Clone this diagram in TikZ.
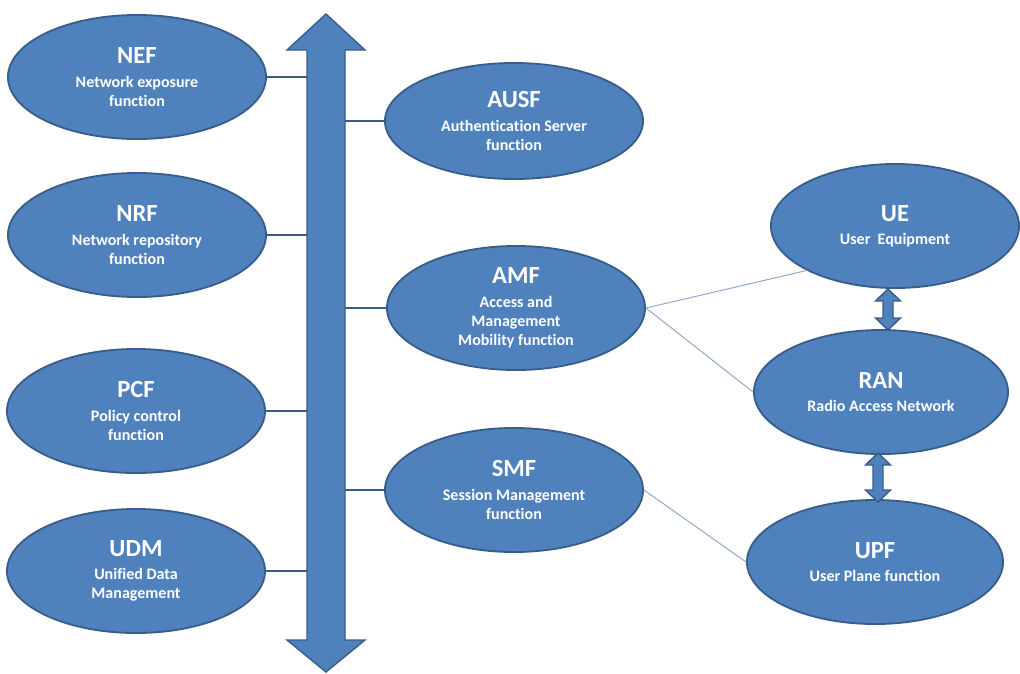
\documentclass[tikz,border=0pt]{standalone}
\usepackage{fontspec}
\setmainfont{Carlito}[Ligatures=NoCommon]
\usetikzlibrary{shapes.geometric}

\definecolor{nfblue}{HTML}{4F81BD}
\definecolor{nfedge}{HTML}{385D8A}
\definecolor{thinblue}{HTML}{8FA8CC}

\newcommand{\nfname}[1]{{\fontsize{17.5}{19}\selectfont #1}\\[3pt]}

\tikzset{
  nf/.style={ellipse, draw=nfedge, line width=1.3pt, fill=nfblue, text=white,
    inner sep=0pt, align=center, minimum width=6.45cm, minimum height=3.1cm,
    font=\bfseries\fontsize{11.4}{13.6}\selectfont},
  link/.style={draw=nfedge, line width=2pt},
  thin/.style={draw=thinblue, line width=0.7pt},
  fat/.style={draw=nfedge, line width=1pt, fill=nfblue, line join=miter}
}

\begin{document}
\begin{tikzpicture}[x=0.025cm, y=-0.025cm]
\useasboundingbox (0,0) rectangle (1020,673);
%% left column
\node[nf] (nef) at (137,77) {\nfname{NEF}Network exposure\\function};
\node[nf] (nrf) at (137,235) {\nfname{NRF}Network repository\\function};
\node[nf] (pcf) at (136,411) {\nfname{PCF}Policy control\\function};
\node[nf] (udm) at (136,571) {\nfname{UDM}Unified Data\\Management};
%% middle column
\node[nf, minimum height=2.9cm] (ausf) at (514,121) {\nfname{AUSF}Authentication Server\\function};
\node[nf] (amf) at (516,308) {\nfname{AMF}Access and\\Management\\Mobility function};
\node[nf] (smf) at (514,490) {\nfname{SMF}Session Management\\function};
%% right column
\node[nf, minimum width=6.2cm] (ue) at (895,226) {\nfname{UE}User~~Equipment};
\node[nf, minimum width=6.35cm] (ran) at (881,392) {\nfname{RAN}Radio Access Network};
\node[nf, minimum width=6.4cm] (upf) at (875,562) {\nfname{UPF}User Plane function};
%% bus
\coordinate (busl) at (307,0);
\coordinate (busr) at (345,0);
\foreach \n in {nef,nrf,pcf,udm}
  \draw[link] (\n.east) -- (\n.east -| busl);
\foreach \n in {ausf,amf,smf}
  \draw[link] (\n.west) -- (\n.west -| busr);
\draw[fat] (326,14) -- (365,50) -- (345,50) -- (345,640) -- (365,640) -- (326,672)
  -- (287,640) -- (307,640) -- (307,50) -- (287,50) -- cycle;
%% thin links
\draw[thin] (amf.east) -- (ue.south west);
\draw[thin] (amf.east) -- (ran.west);
\draw[thin] (smf.east) -- (upf.west);
%% double arrows
\foreach \cx/\ya/\yb in {888/289/330, 878/453/502}
  \draw[fat] (\cx,\ya) -- (\cx+12.5,\ya+12) -- (\cx+5,\ya+12) -- (\cx+5,\yb-12)
    -- (\cx+12.5,\yb-12) -- (\cx,\yb) -- (\cx-12.5,\yb-12) -- (\cx-5,\yb-12)
    -- (\cx-5,\ya+12) -- (\cx-12.5,\ya+12) -- cycle;
\end{tikzpicture}
\end{document}
